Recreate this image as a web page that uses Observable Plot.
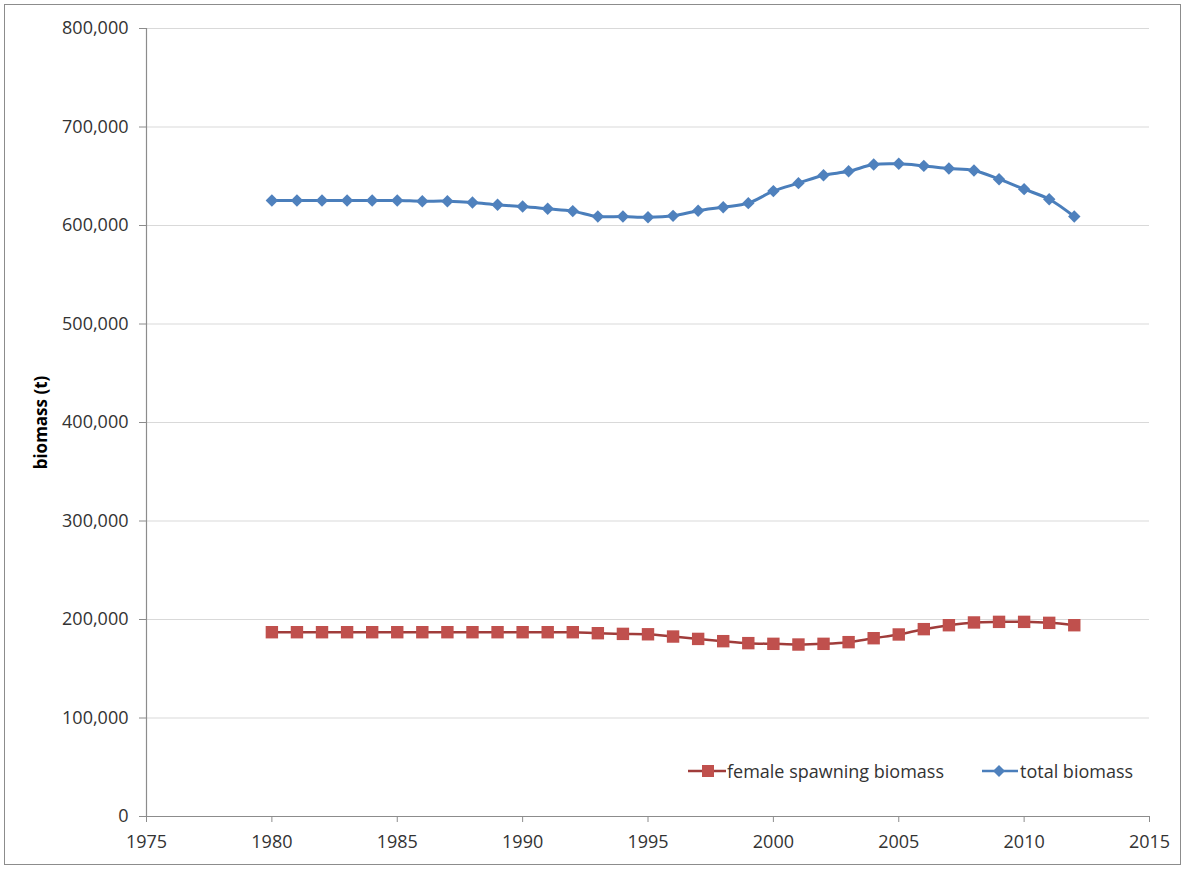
<!DOCTYPE html>
<html>
<head>
<meta charset="utf-8">
<script src="https://cdn.jsdelivr.net/npm/d3@7"></script>
<script src="https://cdn.jsdelivr.net/npm/@observablehq/plot@0.6"></script>
<style>
  html, body { margin: 0; padding: 0; background: #fff; }
  #wrap { position: relative; width: 1186px; height: 869px; font-family: "Open Sans", sans-serif; }
  #frame { position: absolute; left: 4px; top: 4px; width: 1175px; height: 859px; border: 1.5px solid #8c8c8c; pointer-events: none; }
  #legend { position: absolute; top: 759px; left: 686px; font-size: 18px; color: #333; display: flex; align-items: center; white-space: nowrap; }
  .item { display: flex; align-items: center; }
  .item svg { display: block; }
</style>
</head>
<body>
<div id="wrap">
  <div id="chart"></div>
  <div id="frame"></div>
  <div id="legend"></div>
</div>
<script>
const years = [1980,1981,1982,1983,1984,1985,1986,1987,1988,1989,1990,1991,1992,1993,1994,1995,1996,1997,1998,1999,2000,2001,2002,2003,2004,2005,2006,2007,2008,2009,2010,2011,2012];
const totalBiomass = [625400,625400,625400,625400,625400,625400,624700,624700,623400,621000,619300,617000,614600,609100,609100,608400,609800,615000,618600,622700,634900,643000,651000,655000,661900,662600,660500,657900,655800,647000,636900,626700,609100];
const femaleSpawningBiomass = [187100,187100,187100,187100,187100,187100,187100,187100,187100,187100,187100,187100,187100,186100,185400,185000,182700,180300,178000,176000,175300,174600,175300,177000,181000,184800,190200,194200,197000,197600,197600,196600,194200];
const seriesNames = ["female spawning biomass", "total biomass"];
const xTicks = [1975,1980,1985,1990,1995,2000,2005,2010,2015];
const yTicks = [0,100000,200000,300000,400000,500000,600000,700000,800000];
const yLabel = "biomass (t)";

const blueFill = "#4f81bd", blueLine = "#4a7ebb";
const redFill = "#c0504d", redLine = "#a03c3a";

const total = years.map((y, i) => ({year: y, value: totalBiomass[i]}));
const female = years.map((y, i) => ({year: y, value: femaleSpawningBiomass[i]}));

const chart = Plot.plot({
  width: 1186,
  height: 869,
  marginLeft: 146,
  marginRight: 37,
  marginTop: 28,
  marginBottom: 53,
  style: {fontFamily: "'Open Sans', sans-serif", fontSize: "18px", color: "#333", background: "transparent"},
  x: {domain: [1975, 2015]},
  y: {domain: [0, 800000]},
  marks: [
    Plot.gridY(yTicks.filter(d => d > 0), {stroke: "#d9d9d9", strokeOpacity: 1, strokeWidth: 1.2}),
    Plot.ruleX([1975], {stroke: "#8c8c8c", strokeWidth: 1.2}),
    Plot.ruleY([0], {stroke: "#8c8c8c", strokeWidth: 1.2}),
    Plot.axisX({ticks: xTicks, tickFormat: "d", tickSize: 6, tickPadding: 13, stroke: "#8c8c8c", fill: "#333", label: null}),
    Plot.axisY({ticks: yTicks, tickFormat: d3.format(","), tickSize: 7, tickPadding: 11, stroke: "#8c8c8c", fill: "#333", label: null}),
    Plot.axisY({ticks: [], tickSize: 0, label: yLabel, labelAnchor: "center", labelArrow: "none", labelOffset: 112,
      fill: "#000", fontWeight: "bold", fontSize: 17}),
    Plot.line(female, {x: "year", y: "value", stroke: redLine, strokeWidth: 2.5, curve: "catmull-rom"}),
    Plot.dot(female, {x: "year", y: "value", symbol: "square", r: 7, fill: redFill, stroke: "none"}),
    Plot.line(total, {x: "year", y: "value", stroke: blueLine, strokeWidth: 3, curve: "catmull-rom"}),
    Plot.dot(total, {x: "year", y: "value", symbol: "diamond2", r: 5.6, fill: blueFill, stroke: "none"})
  ]
});
document.getElementById("chart").appendChild(chart);

// legend
const legend = document.getElementById("legend");
const icons = [
  `<svg width="41" height="16"><line x1="2" y1="8" x2="40" y2="8" stroke="${redLine}" stroke-width="2.5"/><rect x="16" y="2" width="12" height="12" fill="${redFill}"/></svg>`,
  `<svg width="38" height="16"><line x1="0" y1="8" x2="36" y2="8" stroke="${blueLine}" stroke-width="2.5"/><path d="M17,2 L23,8 L17,14 L11,8 Z" fill="${blueFill}"/></svg>`
];
seriesNames.forEach((name, i) => {
  const d = document.createElement("div");
  d.className = "item";
  d.style.marginRight = i === 0 ? "38px" : "0";
  d.innerHTML = icons[i] + `<span>${name}</span>`;
  legend.appendChild(d);
});
</script>
</body>
</html>
